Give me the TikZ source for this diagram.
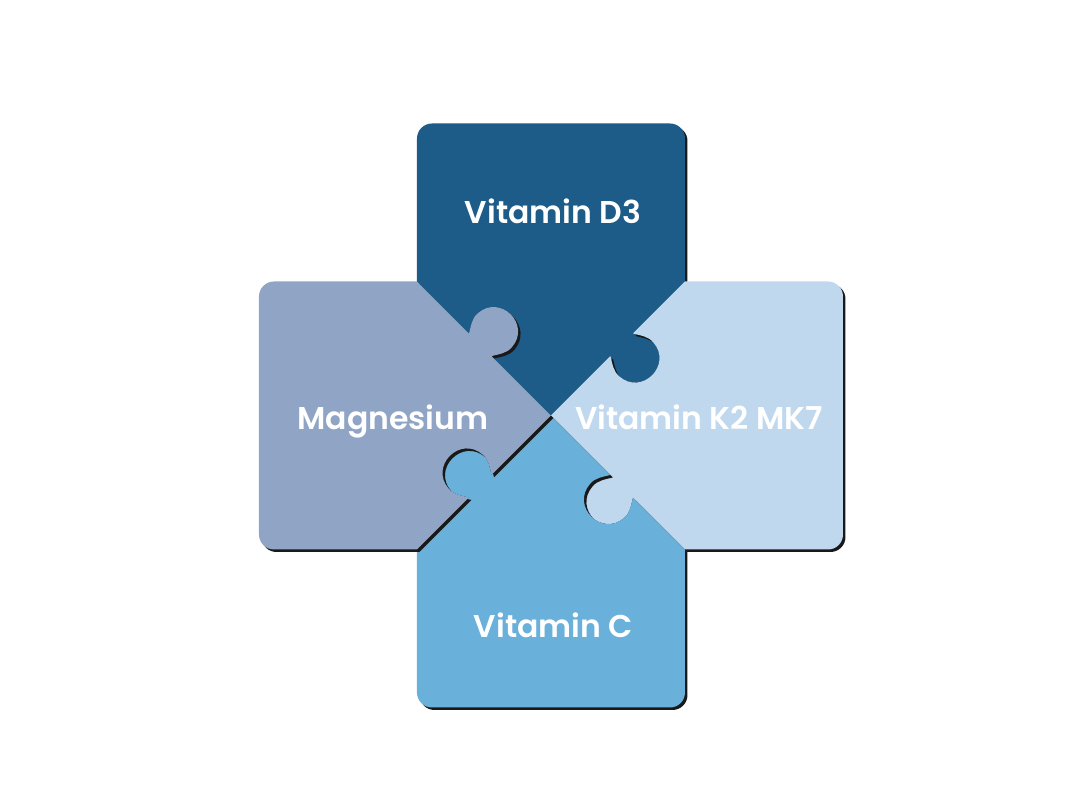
\documentclass[tikz,border=0pt]{standalone}
\usepackage{fontspec}
\setmainfont{Poppins}[BoldFont={Poppins SemiBold}]

\definecolor{vitdblue}{HTML}{1D5B88}
\definecolor{magblue}{HTML}{90A5C5}
\definecolor{kblue}{HTML}{C0D8EE}
\definecolor{cblue}{HTML}{69B0DA}

\begin{document}
\begin{tikzpicture}
    [ x=1pt, y=1pt,
      font={\bfseries\fontsize{31.5}{36}\selectfont},
      shadow/.style={fill=black!90, xshift=2.5, yshift=-2.5},
      vitd/.style={fill=vitdblue},
      magnesium/.style={fill=magblue},
      vitk/.style={fill=kblue},
      vitc/.style={fill=cblue},
      nutrient/.style={text=white, inner sep=0pt, anchor=base}
    ]
    \useasboundingbox (-551, -384.5) rectangle (529, 415.5);

    % one piece, drawn as the top one and turned by #1
    \def\puzzlepiece#1#2{%
        \path[#2, rotate=#1]
            (0, 0) {[rotate=135] -- (84, 0)
                .. controls (80, -7) and (75, -13) .. (76, -21)
                .. controls (77, -35) and (88, -43) .. (100, -43)
                .. controls (112, -43) and (123, -35) .. (124, -21)
                .. controls (125, -13) and (120, -7) .. (116, 0)
                -- (189.5, 0)}
            -- (-134, 277) arc[start angle=180, end angle=90, radius=15]
            -- (119, 292) arc[start angle=90, end angle=0, radius=15]
            -- (134, 134)
            {[rotate=45] -- (116, 0)
                .. controls (120, -7) and (125, -13) .. (124, -21)
                .. controls (123, -35) and (112, -43) .. (100, -43)
                .. controls (88, -43) and (77, -35) .. (76, -21)
                .. controls (75, -13) and (80, -7) .. (84, 0)}
            -- cycle;
    }

    % Vitamin D3
    \puzzlepiece{0}{shadow}
    \puzzlepiece{0}{vitd}

    % Vitamin K2
    \puzzlepiece{-90}{shadow}
    \puzzlepiece{-90}{vitk}

    % Vitamin C
    \puzzlepiece{180}{shadow}
    \puzzlepiece{180}{vitc}

    % Magnesium
    \puzzlepiece{90}{shadow}
    \puzzlepiece{90}{magnesium}

    % Labels
    \node[nutrient] (d3) at (2, 191.5) {Vitamin D3};
    \node[nutrient] (mg) at (-158, -14.5) {Magnesium};
    \node[nutrient] (k2) at (148, -14.5) {Vitamin K2 MK7};
    \node[nutrient] (c) at (2.5, -222.5) {Vitamin C};

\end{tikzpicture}
\end{document}
